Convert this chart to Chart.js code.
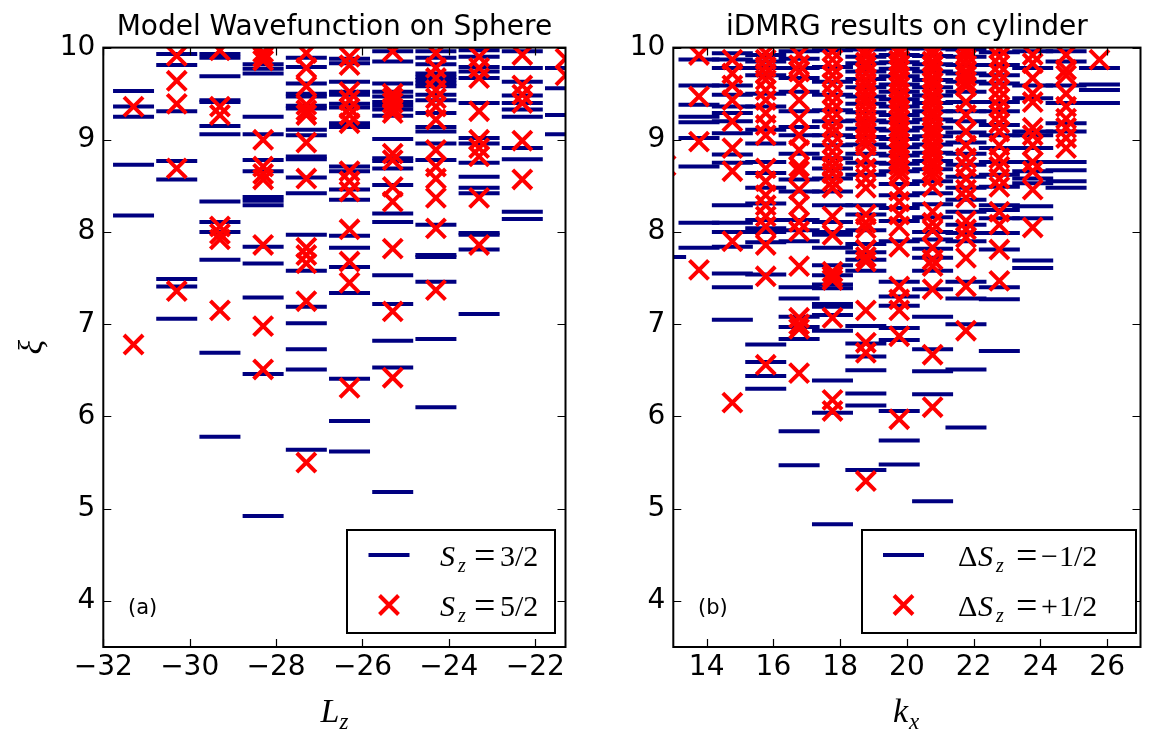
<!DOCTYPE html>
<html lang="en">
<head>
<meta charset="UTF-8">
<title>Entanglement spectra: sphere vs cylinder</title>
<script src="https://cdn.jsdelivr.net/npm/chart.js@4.4.0/dist/chart.umd.min.js"></script>
<style>
  body { margin: 0; background: #fff; }
  .panel { position: absolute; top: 0; }
</style>
</head>
<body>
<div class="panel" style="left:0;width:590px;height:750px"><canvas id="sphere" width="590" height="750"></canvas></div>
<div class="panel" style="left:590px;width:575px;height:750px"><canvas id="cylinder" width="575" height="750"></canvas></div>

<script>
// ---- panel (a): model wavefunction on sphere ----
const lzColumns = [-31.3, -30.3, -29.3, -28.3, -27.3, -26.3, -25.3, -24.3, -23.3, -22.3, -21.3];
const lzTicks = [-32, -30, -28, -26, -24, -22];
const xiTicks = [4, 5, 6, 7, 8, 9, 10];

// S_z = 3/2 levels, one list per L_z column
const sphereSz32 = [
  [9.53, 9.36, 9.25, 8.73, 8.18],
  [9.93, 9.81, 9.31, 8.77, 8.57, 7.49, 7.41, 7.06],
  [9.93, 9.89, 9.69, 9.43, 9.41, 9.15, 9.06, 8.33, 8.11, 8.0, 7.70, 6.69, 5.78],
  [9.82, 9.77, 9.72, 9.25, 9.06, 8.78, 8.66, 8.38, 8.34, 8.29, 7.84, 7.66, 7.29, 6.46, 4.92],
  [9.89, 9.79, 9.61, 9.50, 9.47, 9.37, 9.34, 9.11, 9.05, 8.82, 8.79, 8.59, 8.42, 7.97, 7.58, 7.19, 7.01, 6.73, 6.51, 5.64],
  [9.88, 9.83, 9.63, 9.52, 9.49, 9.39, 9.35, 9.18, 9.14, 8.71, 8.66, 8.46, 8.35, 7.96, 7.83, 7.62, 7.34, 6.41, 5.95, 5.62],
  [9.96, 9.85, 9.61, 9.52, 9.47, 9.41, 9.37, 9.33, 9.26, 9.01, 8.80, 8.77, 8.69, 8.51, 8.20, 8.11, 7.53, 7.22, 6.82, 6.53, 5.18],
  [9.96, 9.89, 9.82, 9.72, 9.68, 9.65, 9.61, 9.58, 9.49, 9.43, 9.29, 9.14, 9.09, 8.96, 8.78, 8.08, 7.75, 7.73, 7.46, 6.84, 6.10],
  [9.97, 9.90, 9.79, 9.74, 9.67, 9.40, 9.02, 8.96, 8.75, 8.60, 8.48, 8.42, 7.99, 7.97, 7.81, 7.11],
  [9.96, 9.78, 9.63, 9.48, 9.40, 9.33, 9.25, 8.91, 8.79, 8.22, 8.14],
  [9.78, 9.56, 9.27, 9.06]
];
// S_z = 5/2 levels
const sphereSz52 = [
  [9.36, 6.78],
  [9.91, 9.64, 9.39, 8.69, 7.36],
  [9.97, 9.36, 9.27, 8.06, 7.98, 7.92, 7.15],
  [9.95, 9.90, 9.86, 9.00, 8.71, 8.63, 8.57, 7.86, 6.98, 6.51],
  [9.94, 9.78, 9.58, 9.38, 9.32, 9.27, 8.97, 8.58, 7.83, 7.75, 7.66, 7.25, 5.50],
  [9.90, 9.81, 9.52, 9.43, 9.34, 9.27, 9.18, 8.66, 8.55, 8.44, 8.03, 7.68, 7.45, 6.31],
  [9.96, 9.50, 9.45, 9.40, 9.34, 9.29, 8.85, 8.78, 8.49, 8.33, 7.82, 7.14, 6.42],
  [9.94, 9.78, 9.67, 9.54, 9.45, 9.36, 9.22, 8.89, 8.71, 8.58, 8.37, 8.04, 7.37],
  [9.90, 9.78, 9.67, 9.31, 9.00, 8.91, 8.82, 8.37, 7.86],
  [9.92, 9.59, 9.49, 9.40, 8.99, 8.57],
  [9.88, 9.70]
];

// ---- panel (b): iDMRG on cylinder ----
const kxColumns = [12.77, 13.77, 14.77, 15.77, 16.77, 17.77, 18.77, 19.77, 20.77, 21.77, 22.77, 23.77, 24.77, 25.77];
const kxTicks = [14, 16, 18, 20, 22, 24, 26];

// Delta S_z = -1/2 levels
const cylMinus = [
  [9.87, 9.60, 9.25, 7.73],
  [9.87, 9.59, 9.38, 9.25, 9.19, 9.02, 8.71, 8.10, 7.83],
  [9.94, 9.87, 9.78, 9.59, 9.49, 9.36, 9.29, 9.20, 9.07, 8.84, 8.75, 8.29, 8.10, 8.00, 7.84, 7.55, 7.40, 7.05],
  [9.92, 9.85, 9.78, 9.70, 9.50, 9.36, 9.11, 8.96, 8.76, 8.64, 8.48, 8.31, 8.13, 8.04, 8.00, 7.89, 7.54, 6.78, 6.59, 6.44, 6.30],
  [9.96, 9.88, 9.78, 9.67, 9.52, 9.31, 9.14, 9.05, 8.85, 8.57, 8.44, 8.13, 8.02, 7.90, 7.40, 7.28, 7.08, 6.97, 6.84, 5.84, 5.47],
  [9.97, 9.79, 9.63, 9.49, 9.32, 9.20, 9.05, 8.94, 8.80, 8.69, 8.58, 8.44, 8.29, 8.11, 8.00, 7.97, 7.83, 7.64, 7.53, 7.43, 7.39, 7.22, 7.19, 7.10, 6.93, 6.39, 6.04, 4.83],
  [9.98, 9.90, 9.83, 9.74, 9.66, 9.57, 9.47, 9.39, 9.30, 9.21, 9.12, 9.03, 8.95, 8.85, 8.75, 8.62, 8.29, 8.19, 8.02, 7.87, 7.78, 7.70, 7.58, 6.98, 6.79, 6.65, 6.50, 6.25, 6.12, 5.42],
  [9.99, 9.92, 9.84, 9.77, 9.69, 9.60, 9.52, 9.44, 9.36, 9.27, 9.19, 9.10, 9.01, 8.92, 8.83, 8.74, 8.66, 8.52, 8.40, 8.26, 8.12, 7.90, 7.46, 7.30, 7.20, 6.96, 6.83, 6.06, 5.74, 5.48],
  [9.99, 9.91, 9.82, 9.74, 9.65, 9.57, 9.48, 9.40, 9.31, 9.22, 9.13, 9.04, 8.95, 8.86, 8.77, 8.68, 8.55, 8.42, 8.30, 8.16, 8.00, 7.92, 7.82, 7.72, 7.58, 7.38, 7.08, 6.73, 6.49, 6.24, 5.08],
  [9.98, 9.90, 9.81, 9.72, 9.63, 9.52, 9.41, 9.31, 9.20, 9.08, 8.97, 8.85, 8.73, 8.60, 8.48, 8.35, 8.22, 8.08, 7.99, 7.90, 7.46, 7.28, 7.00, 6.51, 5.88],
  [9.95, 9.81, 9.70, 9.61, 9.41, 9.31, 9.16, 9.05, 8.91, 8.76, 8.62, 8.49, 8.29, 8.24, 8.15, 7.99, 7.81, 7.40, 7.27, 6.71],
  [9.96, 9.78, 9.59, 9.45, 9.09, 9.05, 8.91, 8.76, 8.66, 8.58, 8.53, 8.28, 8.15, 7.69, 7.61],
  [9.96, 9.85, 9.59, 9.40, 9.18, 9.09, 8.76, 8.67, 8.55, 8.48],
  [9.78, 9.60, 9.54, 9.40]
];
// Delta S_z = +1/2 levels
const cylPlus = [
  [8.72],
  [9.92, 9.47, 8.98, 7.59],
  [9.87, 9.72, 9.59, 9.43, 9.20, 8.91, 8.66, 7.90, 6.15],
  [9.94, 9.87, 9.79, 9.72, 9.65, 9.54, 9.43, 9.29, 9.16, 9.05, 8.69, 8.55, 8.40, 8.29, 8.17, 8.06, 7.86, 7.52, 6.56],
  [9.92, 9.81, 9.74, 9.61, 9.43, 9.23, 9.05, 8.89, 8.71, 8.66, 8.46, 8.29, 8.11, 8.01, 7.63, 7.07, 7.00, 6.95, 6.47],
  [9.96, 9.87, 9.78, 9.70, 9.61, 9.50, 9.41, 9.32, 9.23, 9.14, 9.07, 8.96, 8.87, 8.78, 8.71, 8.64, 8.55, 8.48, 8.17, 7.97, 7.57, 7.52, 7.48, 7.07, 6.18, 6.06],
  [9.97, 9.91, 9.84, 9.79, 9.72, 9.65, 9.59, 9.52, 9.46, 9.40, 9.33, 9.26, 9.19, 9.13, 9.07, 9.00, 8.94, 8.80, 8.69, 8.58, 8.48, 8.19, 8.10, 8.04, 7.81, 7.73, 7.68, 7.15, 6.80, 6.69, 5.30],
  [9.98, 9.93, 9.86, 9.81, 9.75, 9.68, 9.63, 9.57, 9.50, 9.45, 9.39, 9.32, 9.27, 9.21, 9.14, 9.09, 9.03, 8.96, 8.91, 8.85, 8.78, 8.73, 8.67, 8.61, 8.45, 8.33, 8.19, 8.06, 7.84, 7.41, 7.27, 7.15, 6.87, 5.97],
  [9.98, 9.92, 9.85, 9.80, 9.74, 9.67, 9.62, 9.56, 9.49, 9.44, 9.38, 9.31, 9.26, 9.20, 9.13, 9.08, 9.02, 8.95, 8.90, 8.84, 8.77, 8.72, 8.66, 8.60, 8.49, 8.22, 8.10, 8.02, 7.83, 7.70, 7.63, 7.38, 6.67, 6.10],
  [9.98, 9.93, 9.87, 9.81, 9.74, 9.69, 9.63, 9.58, 9.41, 9.27, 9.09, 8.94, 8.80, 8.71, 8.58, 8.46, 8.37, 8.12, 8.03, 7.94, 7.72, 7.41, 6.93],
  [9.99, 9.90, 9.81, 9.72, 9.63, 9.54, 9.45, 9.36, 9.27, 9.18, 9.09, 8.94, 8.80, 8.71, 8.58, 8.49, 8.22, 8.08, 7.81, 7.47],
  [9.92, 9.83, 9.67, 9.50, 9.41, 9.13, 9.05, 8.94, 8.76, 8.66, 8.46, 8.05],
  [9.92, 9.76, 9.70, 9.50, 9.36, 9.23, 9.13, 9.02, 8.91],
  [9.87]
];

const NAVY = '#000080';
const RED = '#ff0000';

function buildPoints(cols, levels) {
  const pts = [];
  levels.forEach((col, i) => col.forEach(v => pts.push({ x: cols[i], y: v })));
  return pts;
}

function fmtTick(v) {
  return v < 0 ? '\u2212' + Math.abs(v) : String(v);
}

// draw a run of text pieces: [text, font, dx, dy]
function drawPieces(ctx, x, y, pieces) {
  pieces.forEach(p => {
    ctx.font = p[1];
    ctx.fillText(p[0], x + p[2], y + (p[3] || 0));
  });
}

const MATH = '30px "Liberation Serif"';
const MATH_EQ = '38px "Liberation Serif"';
const MATH_I = 'italic 30px "Liberation Serif"';
const MATH_SUB = 'italic 20px "Liberation Serif"';

// frame, inward ticks, titles, axis labels, legend
function decor(cfg) {
  return {
    id: 'decor_' + cfg.id,
    afterDraw(chart) {
      const { ctx, chartArea: a, scales } = chart;
      const ox = cfg.offsetX;
      ctx.save();
      ctx.strokeStyle = '#000';
      ctx.fillStyle = '#000';

      // ticks on all four sides, pointing in
      ctx.lineWidth = 1.2;
      ctx.beginPath();
      cfg.xTicks.forEach(v => {
        const px = Math.round(scales.x.getPixelForValue(v)) + 0.5;
        ctx.moveTo(px, a.bottom); ctx.lineTo(px, a.bottom - 8);
        ctx.moveTo(px, a.top); ctx.lineTo(px, a.top + 8);
      });
      xiTicks.forEach(v => {
        const py = Math.round(scales.y.getPixelForValue(v)) + 0.5;
        ctx.moveTo(a.left, py); ctx.lineTo(a.left + 8, py);
        ctx.moveTo(a.right, py); ctx.lineTo(a.right - 8, py);
      });
      ctx.stroke();

      // frame
      ctx.lineWidth = 2;
      ctx.strokeRect(a.left, a.top, a.right - a.left, a.bottom - a.top);

      // title
      const cx = (a.left + a.right) / 2;
      ctx.font = '28px "DejaVu Sans"';
      ctx.textAlign = 'center';
      ctx.textBaseline = 'alphabetic';
      ctx.fillText(cfg.title, cx, 35);

      // x axis label (math italic with subscript)
      ctx.textAlign = 'left';
      drawPieces(ctx, cx - 14, 722, [
        [cfg.xLabel[0], 'italic 34px "Liberation Serif"', 0, 0],
        [cfg.xLabel[1], 'italic 23px "Liberation Serif"', cfg.xLabel[0] === 'L' ? 19 : 16, 7]
      ]);

      // y axis label, rotated
      if (cfg.yLabel) {
        ctx.save();
        ctx.translate(42, (a.top + a.bottom) / 2);
        ctx.rotate(-Math.PI / 2);
        ctx.textAlign = 'center';
        ctx.font = 'italic 34px "Liberation Serif"';
        ctx.fillText('\u03be', 0, 0);
        ctx.restore();
      }

      // panel letter
      ctx.font = '21px "DejaVu Sans"';
      ctx.textBaseline = 'middle';
      ctx.fillText(cfg.letter, cfg.letterX - ox, 609);

      // legend box
      const lg = cfg.legend;
      ctx.fillStyle = '#fff';
      ctx.fillRect(lg.x0 - ox, lg.y0, lg.x1 - lg.x0, lg.y1 - lg.y0);
      ctx.lineWidth = 2;
      ctx.strokeRect(lg.x0 - ox, lg.y0, lg.x1 - lg.x0, lg.y1 - lg.y0);

      // legend sample: dash
      ctx.strokeStyle = NAVY;
      ctx.lineWidth = 4;
      ctx.beginPath();
      ctx.moveTo(lg.mark - 20.5 - ox, 555); ctx.lineTo(lg.mark + 20.5 - ox, 555);
      ctx.stroke();
      // legend sample: cross
      ctx.strokeStyle = RED;
      const s = 9.5;
      ctx.beginPath();
      ctx.moveTo(lg.mark - s - ox, 605 - s); ctx.lineTo(lg.mark + s - ox, 605 + s);
      ctx.moveTo(lg.mark - s - ox, 605 + s); ctx.lineTo(lg.mark + s - ox, 605 - s);
      ctx.stroke();

      // legend texts
      ctx.fillStyle = '#000';
      ctx.textBaseline = 'alphabetic';
      cfg.legendText.forEach((pieces, i) => drawPieces(ctx, lg.text - ox, 566 + i * 50, pieces));

      ctx.restore();
    }
  };
}

function makeChart(cfg) {
  const tickFont = { family: 'DejaVu Sans', size: 28 };
  return new Chart(document.getElementById(cfg.id), {
    type: 'scatter',
    data: {
      datasets: [
        {
          label: 'minus', data: buildPoints(cfg.cols, cfg.blue),
          pointStyle: 'line', pointRadius: 20.5, borderWidth: 4,
          borderColor: NAVY, backgroundColor: NAVY, order: 2, clip: 0
        },
        {
          label: 'plus', data: buildPoints(cfg.cols, cfg.red),
          pointStyle: 'crossRot', pointRadius: 13.5, borderWidth: 4,
          borderColor: RED, backgroundColor: RED, order: 1, clip: 0
        }
      ]
    },
    options: {
      responsive: false,
      animation: false,
      events: [],
      layout: { padding: { top: 47.6, right: cfg.padRight, left: 0, bottom: 0 } },
      plugins: { legend: { display: false }, tooltip: { enabled: false } },
      scales: {
        x: {
          type: 'linear', min: cfg.xMin, max: cfg.xMax,
          afterBuildTicks: s => { s.ticks = cfg.xTicks.map(v => ({ value: v })); },
          afterFit: s => { s.height = 103; },
          grid: { display: false, drawTicks: false },
          border: { display: false },
          ticks: { font: tickFont, color: '#000', padding: 4, maxRotation: 0, callback: fmtTick }
        },
        y: {
          type: 'linear', min: 3.5, max: 10,
          afterBuildTicks: s => { s.ticks = xiTicks.map(v => ({ value: v })); },
          afterFit: s => { s.width = cfg.yWidth; },
          grid: { display: false, drawTicks: false },
          border: { display: false },
          ticks: { font: tickFont, color: '#000', padding: 8, callback: fmtTick }
        }
      }
    },
    plugins: [decor(cfg)]
  });
}

makeChart({
  id: 'sphere', offsetX: 0, yWidth: 103.3, padRight: 24,
  cols: lzColumns, blue: sphereSz32, red: sphereSz52,
  xMin: -32, xMax: -21.3, xTicks: lzTicks,
  title: 'Model Wavefunction on Sphere', xLabel: ['L', 'z'], yLabel: true,
  letter: '(a)', letterX: 128,
  legend: { x0: 347, y0: 530, x1: 555, y1: 633, mark: 389, text: 440 },
  legendText: [
    [['S', MATH_I, 0], ['z', MATH_SUB, 18, 6], ['=', MATH_EQ, 34, 2], ['3/2', MATH, 60]],
    [['S', MATH_I, 0], ['z', MATH_SUB, 18, 6], ['=', MATH_EQ, 34, 2], ['5/2', MATH, 60]]
  ]
});

makeChart({
  id: 'cylinder', offsetX: 590, yWidth: 83.3, padRight: 15,
  cols: kxColumns, blue: cylMinus, red: cylPlus,
  xMin: 13, xMax: 27, xTicks: kxTicks,
  title: 'iDMRG results on cylinder', xLabel: ['k', 'x'], yLabel: false,
  letter: '(b)', letterX: 698,
  legend: { x0: 862, y0: 530, x1: 1136, y1: 633, mark: 903.5, text: 958 },
  legendText: [
    [['\u0394', MATH, 0], ['S', MATH_I, 20], ['z', MATH_SUB, 38, 6], ['=', MATH_EQ, 58, 2], ['\u2212', MATH, 83], ['1/2', MATH, 101]],
    [['\u0394', MATH, 0], ['S', MATH_I, 20], ['z', MATH_SUB, 38, 6], ['=', MATH_EQ, 58, 2], ['+', MATH, 83], ['1/2', MATH, 101]]
  ]
});
</script>
</body>
</html>
